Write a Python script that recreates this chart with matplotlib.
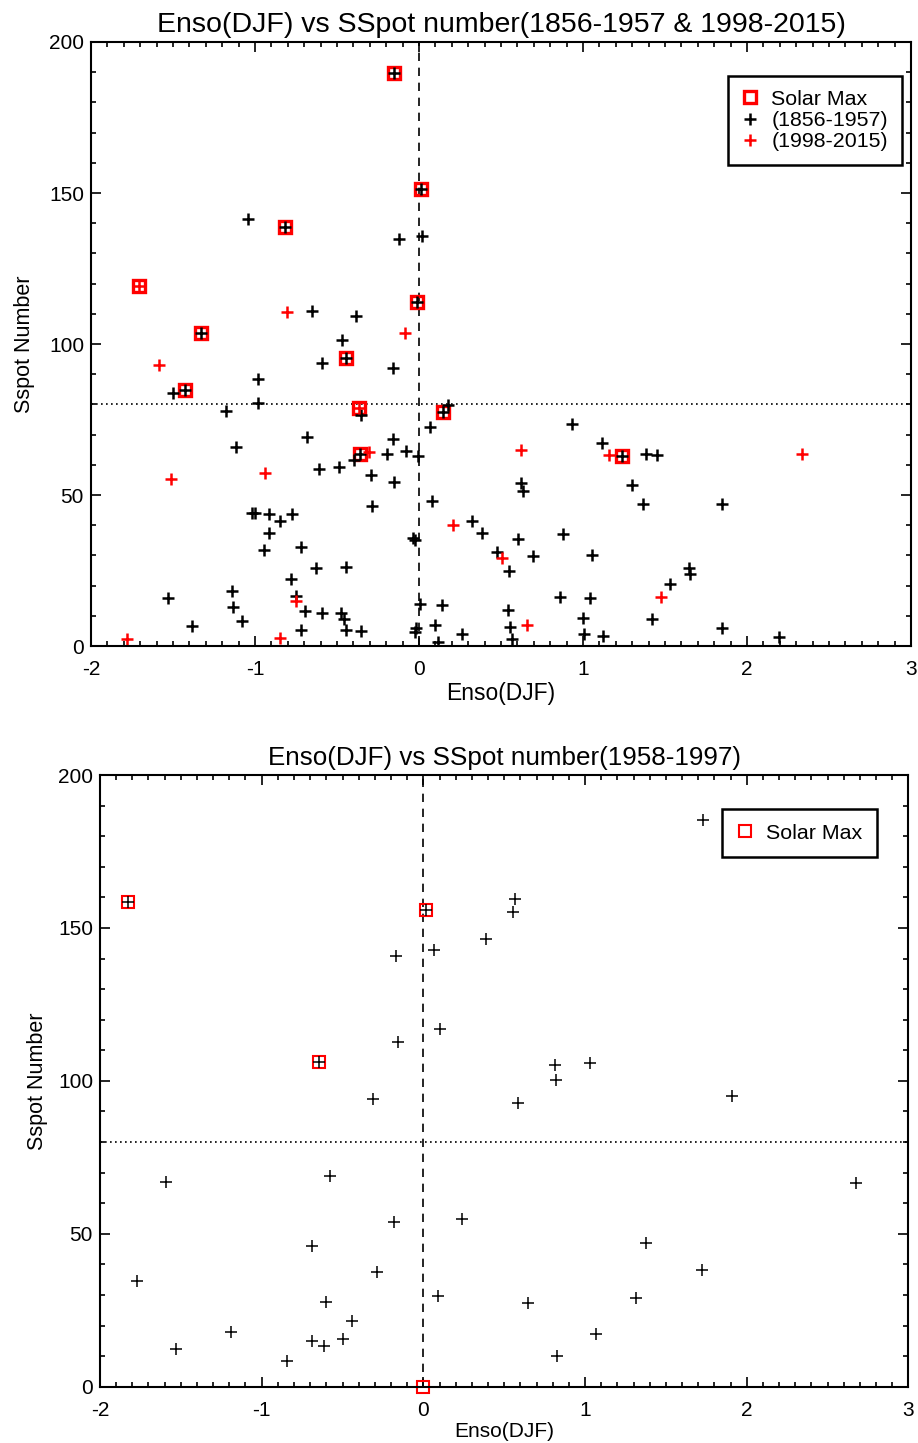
import numpy as np
import matplotlib
matplotlib.use("Agg")
import matplotlib.pyplot as plt
from matplotlib.ticker import MultipleLocator

plt.rcParams['font.family'] = ['Liberation Sans', 'DejaVu Sans']
plt.rcParams['axes.unicode_minus'] = False

# ---- top panel: 1856-1957 (black) and 1998-2015 (red)
enso_old = [-0.15, 0.01, -1.045, -0.82, -0.12, 0.02, -1.33, -0.652, -0.384, -0.468,
            -0.01, -0.447, -0.593, -0.159, -0.984, -1.427, -1.498, -0.982, -1.177, -0.354,
            0.148, 0.175, 0.067, -1.114, -0.683, -0.16, -0.195, -0.079, -0.006, -0.36,
            -0.398, -0.612, -0.486, -0.293, -0.152, -0.287, 0.077, -1.018, -0.998, -0.917,
            -0.848, -0.774, -0.917, -0.945, -0.718, -0.035, -0.024, 0.323, 0.382, 0.474,
            -0.628, -0.447, -0.779, -1.14, -1.528, -0.75, -1.132, -0.693, -0.589, -0.476,
            -0.455, -1.079, -1.386, -0.72, -0.447, -0.354, 0.006, 0.138, -0.018, -0.024,
            0.098, 0.114, 0.264, 0.933, 1.118, 1.236, 1.382, 1.449, 0.622, 0.632,
            1.297, 1.364, 1.848, 0.602, 0.88, 0.697, 1.057, 0.547, 1.644, 1.652,
            1.532, 0.86, 1.041, 0.545, 1.002, 1.423, 0.553, 1.849, 0.565, 1.008,
            1.12, 2.195]
ssn_old = [189.6, 151.2, 141.4, 138.6, 134.8, 135.9, 103.5, 110.9, 109.3, 101.3,
           114.0, 95.4, 93.6, 92.2, 88.4, 84.8, 83.7, 80.4, 77.7, 76.5,
           77.4, 79.8, 72.6, 65.8, 69.1, 68.7, 63.6, 64.5, 63.0, 63.5,
           61.6, 58.7, 59.4, 56.6, 54.4, 46.5, 48.0, 44.1, 43.9, 43.6,
           41.5, 43.6, 37.5, 31.8, 32.7, 35.7, 35.1, 41.4, 37.3, 31.0,
           25.7, 26.3, 22.3, 18.2, 16.0, 16.7, 12.8, 11.6, 10.8, 10.8,
           9.1, 8.3, 6.7, 5.3, 5.3, 5.1, 13.8, 13.5, 6.1, 4.7,
           7.0, 1.2, 4.0, 73.5, 67.3, 63.0, 63.5, 63.1, 53.9, 51.4,
           53.4, 47.0, 47.0, 35.3, 37.2, 29.9, 30.1, 24.9, 26.0, 23.8,
           20.7, 16.3, 15.8, 11.9, 9.3, 8.9, 6.4, 5.9, 2.2, 3.9,
           3.2, 3.0]

enso_new = [-0.807, -0.083, -1.587, -0.307, -1.512, -0.939, 0.209, -0.75, -1.782,
            -0.848, 0.622, 1.159, 2.333, 0.504, 1.478, 0.657, -1.705, -0.366]
ssn_new = [110.5, 103.7, 92.9, 64.4, 55.3, 57.2, 40.2, 14.9, 2.4,
           2.6, 64.9, 63.1, 63.7, 29.2, 16.1, 7.1, 119.2, 78.7]

enso_max1 = [-0.15, 0.01, -0.82, -1.705, -1.33, -0.01, -0.447, -1.427, -0.366,
             0.148, -0.36, 1.236]
ssn_max1 = [189.6, 151.2, 138.6, 119.2, 103.5, 114.0, 95.4, 84.8, 78.7,
            77.4, 63.5, 63.0]

# ---- bottom panel: 1958-1997
enso_mid = [-1.828, 0.015, -0.169, 0.068, 0.388, -0.155, 0.103, -0.643, -0.313, 1.73,
            0.565, 0.553, 0.813, 0.823, 1.033, 1.911, 0.588, -1.589, -0.577, -0.181,
            0.237, -0.69, -1.772, -0.288, 0.089, -0.6, -0.443, -1.191, -0.688, -0.612,
            -0.495, -1.529, -0.845, 2.675, 1.375, 1.725, 0.645, 1.315, 1.066, 0.825]
ssn_mid = [158.4, 155.8, 140.9, 142.9, 146.3, 112.6, 116.8, 106.2, 94.0, 185.3,
           159.5, 155.1, 105.1, 100.2, 105.9, 95.0, 92.8, 66.8, 69.0, 53.9,
           54.8, 46.0, 34.5, 37.6, 29.8, 27.8, 21.5, 17.9, 15.0, 13.3,
           15.5, 12.4, 8.5, 66.6, 47.0, 38.2, 27.5, 29.1, 17.3, 10.1]

enso_max2 = [-1.828, 0.015, -0.643, 0.0]
ssn_max2 = [158.4, 155.8, 106.2, 0.0]

fig = plt.figure(figsize=(9.18, 14.43), dpi=100)
ax1 = fig.add_axes([0.0991, 0.5523, 0.8933, 0.4186])
ax2 = fig.add_axes([0.1089, 0.0390, 0.8807, 0.4239])


def style(ax, title, tsize, xsize, ylpad):
    ax.set_xlim(-2, 3)
    ax.set_ylim(0, 200)
    ax.axvline(0, color='k', ls=(0, (5, 4)), lw=1.2)
    ax.axhline(80, color='k', ls=(0, (1, 2)), lw=1.2)
    ax.xaxis.set_major_locator(MultipleLocator(1))
    ax.xaxis.set_minor_locator(MultipleLocator(0.1))
    ax.yaxis.set_major_locator(MultipleLocator(50))
    ax.yaxis.set_minor_locator(MultipleLocator(10))
    ax.tick_params(which='both', direction='in', top=True, right=True,
                   labelsize=15, width=1.2)
    ax.tick_params(which='major', length=7)
    ax.tick_params(axis='x', which='major', pad=10)
    ax.tick_params(axis='y', which='major', pad=5)
    ax.tick_params(which='minor', length=3.5)
    for s in ax.spines.values():
        s.set_linewidth(1.5)
    ax.set_title(title, fontsize=tsize, pad=7)
    ax.set_xlabel('Enso(DJF)', fontsize=xsize, labelpad=2)
    ax.set_ylabel('Sspot Number', fontsize=15.5, labelpad=ylpad)


style(ax1, 'Enso(DJF) vs SSpot number(1856-1957 & 1998-2015)', 20.5, 16.5, 10)
ax1.plot(enso_max1, ssn_max1, ls='none', marker='s', ms=9, mfc='none',
         mec='red', mew=2.4, label='Solar Max')
ax1.plot(enso_old, ssn_old, ls='none', marker='+', ms=8.5, mew=1.8,
         color='k', label='(1856-1957)')
ax1.plot(enso_new, ssn_new, ls='none', marker='+', ms=8.5, mew=1.8,
         color='red', label='(1998-2015)')
leg1 = ax1.legend(loc='upper right', bbox_to_anchor=(0.989, 0.944), fontsize=15.4,
                  handlelength=0.8, handletextpad=0.6, labelspacing=0.11,
                  borderpad=0.65, borderaxespad=0, fancybox=False, framealpha=1,
                  edgecolor='k')
leg1.get_frame().set_linewidth(1.8)

style(ax2, 'Enso(DJF) vs SSpot number(1958-1997)', 18.7, 15, 7)
ax2.plot(enso_max2, ssn_max2, ls='none', marker='s', ms=9, mfc='none',
         mec='red', mew=1.5, label='Solar Max', clip_on=False)
ax2.plot(enso_mid, ssn_mid, ls='none', marker='+', ms=9, mew=1.1, color='k')
leg2 = ax2.legend(loc='upper right', bbox_to_anchor=(0.961, 0.944), fontsize=15.4,
                  handlelength=0.8, handletextpad=0.6, borderpad=0.67,
                  borderaxespad=0, fancybox=False, framealpha=1, edgecolor='k')
leg2.get_frame().set_linewidth(1.8)

fig.savefig('out.png', dpi=100)
